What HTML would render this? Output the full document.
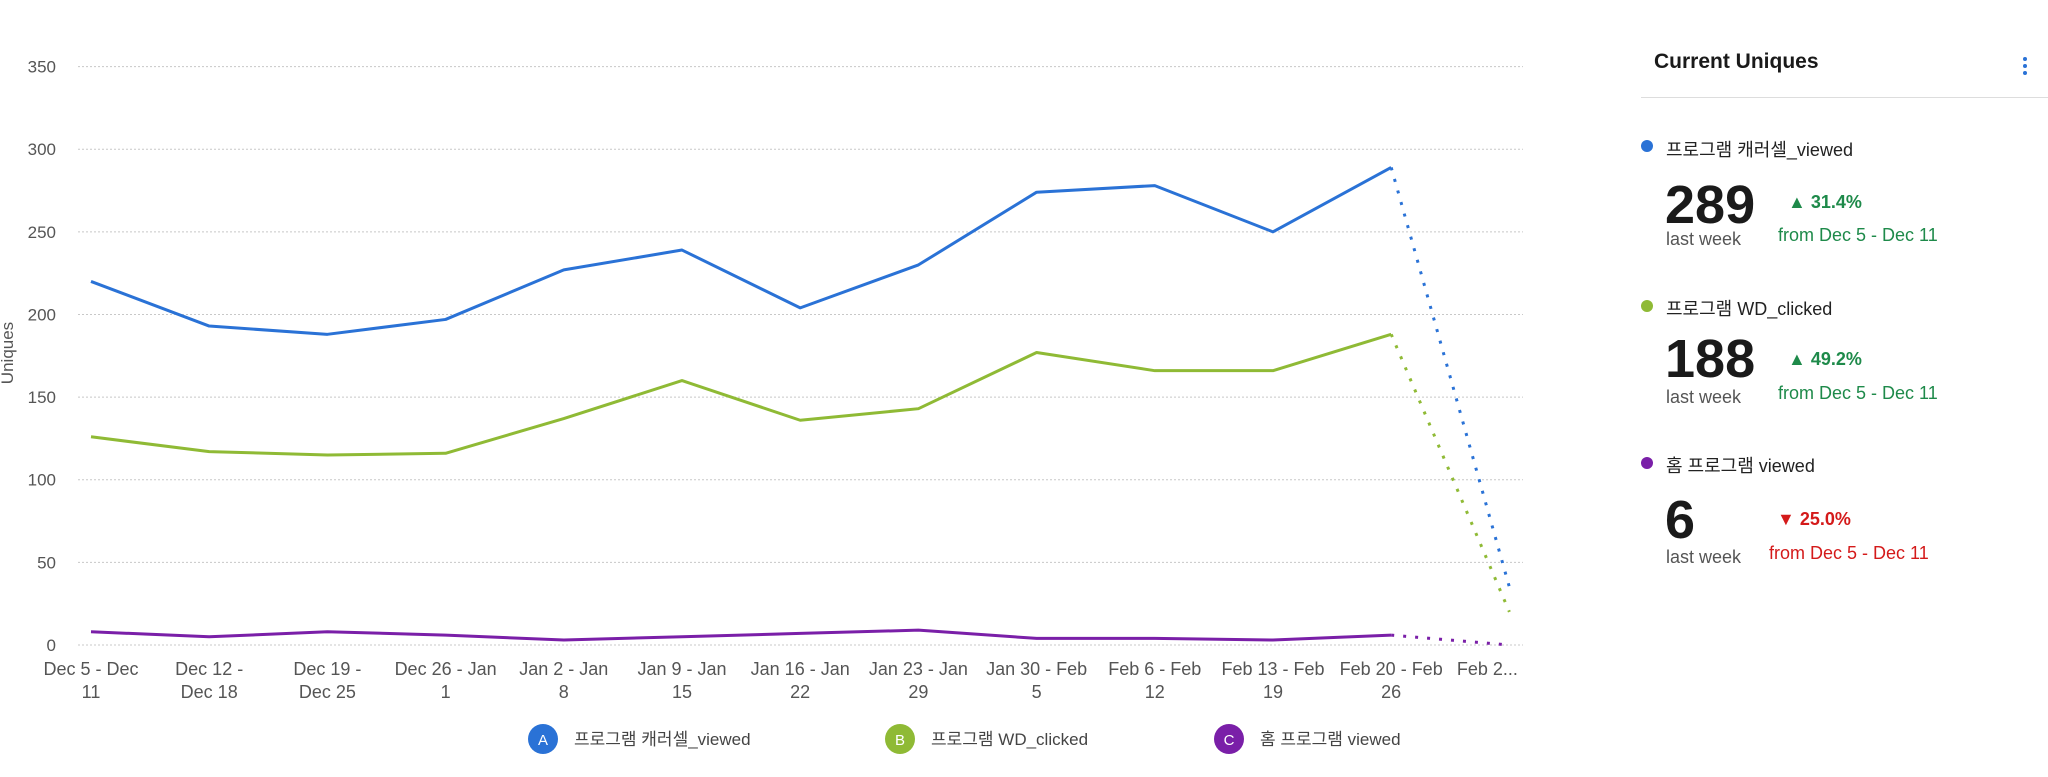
<!DOCTYPE html>
<html><head><meta charset="utf-8"><style>
body{margin:0;width:2048px;height:777px;background:#fff;font-family:"Liberation Sans","Noto Sans CJK KR",sans-serif;overflow:hidden;position:relative}
.abs{position:absolute;white-space:nowrap}
.ttl{font-size:21px;font-weight:bold;color:#1a1a1a}
.sn{font-size:18px;color:#222}
.big{font-size:54px;font-weight:bold;color:#1a1a1a;line-height:1}
.lw{font-size:18px;color:#555}
.pct{font-size:18px;font-weight:bold}
.fr{font-size:18px}
.g{color:#1e8a4a}.r{color:#d41a1a}
.dot{position:absolute;width:12px;height:12px;border-radius:50%}
</style></head><body>
<svg id="chart" width="1560" height="777" style="position:absolute;left:0;top:0"></svg>
<div class="abs ttl" style="left:1654px;top:50px">Current Uniques</div>
<div class="abs" style="left:2020px;top:55px;width:10px;height:22px">
<div class="dot" style="width:4px;height:4px;background:#2a72d6;left:3px;top:2px"></div>
<div class="dot" style="width:4px;height:4px;background:#2a72d6;left:3px;top:9px"></div>
<div class="dot" style="width:4px;height:4px;background:#2a72d6;left:3px;top:16px"></div></div>
<div class="abs" style="left:1641px;top:97px;width:407px;height:1px;background:#ddd"></div>

<div class="dot" style="left:1641px;top:140px;background:#2a72d6"></div>
<div class="abs sn" style="left:1666px;top:136px">프로그램 캐러셀_viewed</div>
<div class="abs big" style="left:1665px;top:178px">289</div>
<div class="abs lw" style="left:1666px;top:229px">last week</div>
<div class="abs pct g" style="left:1788px;top:192px">▲ 31.4%</div>
<div class="abs fr g" style="left:1778px;top:225px">from Dec 5 - Dec 11</div>

<div class="dot" style="left:1641px;top:300px;background:#8fba35"></div>
<div class="abs sn" style="left:1666px;top:295px">프로그램 WD_clicked</div>
<div class="abs big" style="left:1665px;top:332px">188</div>
<div class="abs lw" style="left:1666px;top:387px">last week</div>
<div class="abs pct g" style="left:1788px;top:349px">▲ 49.2%</div>
<div class="abs fr g" style="left:1778px;top:383px">from Dec 5 - Dec 11</div>

<div class="dot" style="left:1641px;top:457px;background:#7a1fa8"></div>
<div class="abs sn" style="left:1666px;top:452px">홈 프로그램 viewed</div>
<div class="abs big" style="left:1665px;top:493px">6</div>
<div class="abs lw" style="left:1666px;top:547px">last week</div>
<div class="abs pct r" style="left:1777px;top:509px">▼ 25.0%</div>
<div class="abs fr r" style="left:1769px;top:543px">from Dec 5 - Dec 11</div>
<script>
const categories=["Dec 5 - Dec|11","Dec 12 -|Dec 18","Dec 19 -|Dec 25","Dec 26 - Jan|1","Jan 2 - Jan|8","Jan 9 - Jan|15","Jan 16 - Jan|22","Jan 23 - Jan|29","Jan 30 - Feb|5","Feb 6 - Feb|12","Feb 13 - Feb|19","Feb 20 - Feb|26","Feb 2..."];
const seriesA=[220,193,188,197,227,239,204,230,274,278,250,289,35];
const seriesB=[126,117,115,116,137,160,136,143,177,166,166,188,20];
const seriesC=[8,5,8,6,3,5,7,9,4,4,3,6,0];
const yTicks=[0,50,100,150,200,250,300,350];
const seriesNames=["프로그램 캐러셀_viewed","프로그램 WD_clicked","홈 프로그램 viewed"];
const NS="http://www.w3.org/2000/svg";
const svg=document.getElementById('chart');
const x=i=>91+i*118.2;
const y=v=>645-v*(578.4/350);
function mk(t,a,p){const e=document.createElementNS(NS,t);for(const k in a)e.setAttribute(k,a[k]);(p||svg).appendChild(e);return e;}
yTicks.forEach(v=>{
 const l=mk('line',{x1:78,x2:1523,y1:y(v),y2:y(v),stroke:'#c8c8c8','stroke-dasharray':'2,2'});
 
 
 const t=mk('text',{x:56,y:y(v)+6,'text-anchor':'end','font-size':17,fill:'#555','font-family':'Liberation Sans'});
 t.textContent=v;
 
 
});
categories.forEach((c,i)=>{
 const parts=c.split('|');
 const cx=i===categories.length-1?x(i)-22:x(i);
 parts.forEach((p,j)=>{
  const t=mk('text',{x:cx,y:675+j*23,'text-anchor':'middle','font-size':18,fill:'#555','font-family':'Liberation Sans'});
  t.textContent=p;
  
  
 });
});
const yt=mk('text',{transform:'translate(13,353) rotate(-90)','text-anchor':'middle','font-size':17,fill:'#555','font-family':'Liberation Sans'});
yt.textContent='Uniques';


const cols=['#2a72d6','#8fba35','#7a1fa8'];
[seriesA,seriesB,seriesC].forEach((s,k)=>{
 const n=s.length;
 const pts=s.slice(0,n-1).map((v,i)=>x(i)+','+y(v)).join(' ');
 const pl=mk('polyline',{points:pts,fill:'none',stroke:cols[k],'stroke-width':3,'stroke-linejoin':'round'});
 
 
 const d=mk('line',{x1:x(n-2),y1:y(s[n-2]),x2:x(n-1),y2:y(s[n-1]),stroke:cols[k],'stroke-width':3,'stroke-dasharray':'3,9'});
 
 
});
const lx=[543,900,1229];
seriesNames.forEach((nm,k)=>{
 const g=mk('g',{});
 
 
 mk('circle',{cx:lx[k],cy:739,r:15,fill:cols[k]},g);
 const a=mk('text',{x:lx[k],y:745,'text-anchor':'middle','font-size':15,fill:'#fff','font-family':'Liberation Sans'},g);
 a.textContent='ABC'[k];
 const t=mk('text',{x:lx[k]+31,y:745,'font-size':17,fill:'#444','font-family':'Liberation Sans, Noto Sans CJK KR, sans-serif'},g);
 t.textContent=nm;
});
</script>
</body></html>
